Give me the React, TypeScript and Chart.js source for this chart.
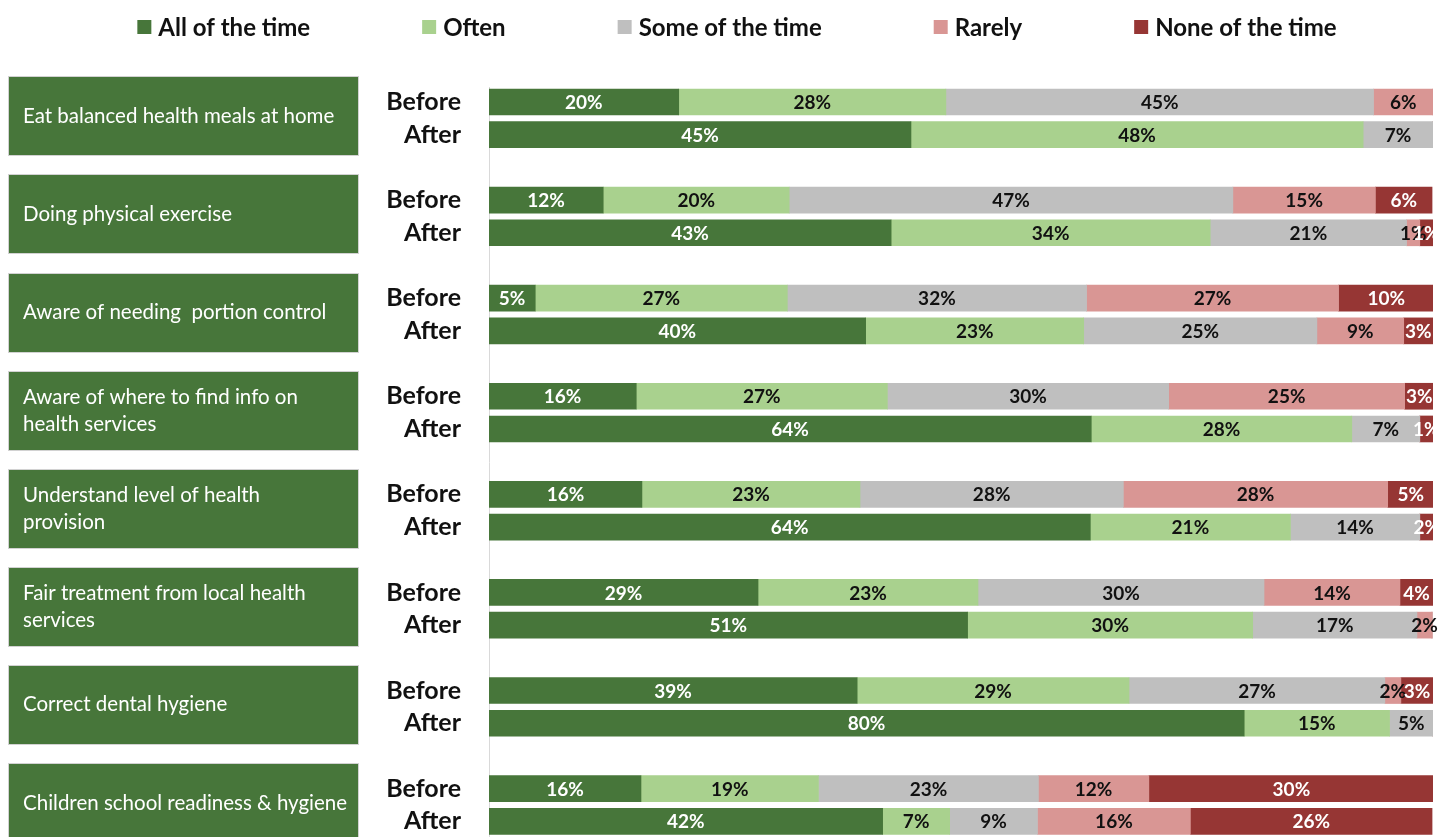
import React, { useEffect, useRef } from 'react';
import { Chart, registerables } from 'chart.js';

Chart.register(...registerables);

// ---------- data ----------
const categories: string[][] = [
  ['Eat balanced health meals at home'],
  ['Doing physical exercise'],
  ['Aware of needing  portion control'],
  ['Aware of where to find info on', 'health services'],
  ['Understand level of health', 'provision'],
  ['Fair treatment from local health', 'services'],
  ['Correct dental hygiene'],
  ['Children school readiness & hygiene'],
];
const periods = ['Before', 'After'];
const seriesNames = ['All of the time', 'Often', 'Some of the time', 'Rarely', 'None of the time'];
const seriesColors = ['#47763A', '#A9D18E', '#BFBFBF', '#D99694', '#963634'];
const labelColors = ['#FFFFFF', '#111111', '#111111', '#111111', '#FFFFFF'];

// order: cat1 Before, cat1 After, cat2 Before, cat2 After, ...
const allOfTheTime = [20.1, 44.7, 12.1, 42.6, 4.9, 39.9, 15.6, 63.8, 16.2, 63.7, 28.5, 50.7, 39.0, 80.0, 16.1, 41.7];
const often = [28.3, 47.9, 19.7, 33.8, 26.7, 23.1, 26.6, 27.6, 23.1, 21.2, 23.3, 30.2, 28.8, 15.4, 18.8, 7.1];
const someOfTheTime = [45.3, 7.4, 47.0, 20.8, 31.7, 24.7, 29.8, 7.2, 27.9, 13.7, 30.3, 17.4, 27.1, 4.6, 23.3, 9.3];
const rarely = [6.3, 0, 15.1, 1.4, 26.7, 9.2, 25.0, 0, 28.0, 0, 14.4, 1.6, 1.7, 0, 11.7, 16.2];
const noneOfTheTime = [0, 0, 6.0, 1.4, 10.1, 3.1, 3.1, 1.4, 4.9, 1.5, 3.5, 0, 3.4, 0, 30.2, 25.6];

const seriesValues = [allOfTheTime, often, someOfTheTime, rarely, noneOfTheTime];

const FONT = 'Lato, "Open Sans", sans-serif';

// slot index on the y axis for each bar: 3 slots per category (Before, After, gap)
const slotOf = (k: number) => Math.floor(k / 2) * 3 + (k % 2);
const tickSlots = allOfTheTime.map((_, k) => slotOf(k));

const categoryBoxes = {
  id: 'categoryBoxes',
  beforeDraw(chart: any) {
    const { ctx } = chart;
    const y = chart.scales.y;
    ctx.save();
    categories.forEach((lines, g) => {
      const yc = (y.getPixelForValue(g * 3) + y.getPixelForValue(g * 3 + 1)) / 2 - 2;
      const top = Math.round(yc - 39);
      ctx.fillStyle = seriesColors[0];
      ctx.fillRect(9, top, 349, 78);
      ctx.strokeStyle = 'rgba(205,205,205,0.9)';
      ctx.lineWidth = 1;
      ctx.strokeRect(8.5, top - 0.5, 350, 79);
      ctx.fillStyle = '#FFFFFF';
      ctx.font = `20.5px ${FONT}`;
      ctx.textAlign = 'left';
      ctx.textBaseline = 'middle';
      const lh = 27;
      lines.forEach((line, i) => {
        ctx.fillText(line, 23, yc + (i - (lines.length - 1) / 2) * lh);
      });
    });
    ctx.restore();
  },
};

const customLegend = {
  id: 'customLegend',
  afterDraw(chart: any) {
    const { ctx } = chart;
    ctx.save();
    ctx.font = `bold 24px ${FONT}`;
    ctx.textBaseline = 'middle';
    ctx.textAlign = 'left';
    const box = 14;
    const gap = 7;
    const spacing = 112;
    const ds = chart.data.datasets;
    const widths = ds.map((d: any) => box + gap + ctx.measureText(d.label).width);
    const total = widths.reduce((a: number, b: number) => a + b, 0) + spacing * (ds.length - 1);
    let x = 737 - total / 2;
    const yc = 27;
    ds.forEach((d: any, i: number) => {
      ctx.fillStyle = d.backgroundColor;
      ctx.fillRect(x, yc - box / 2, box, box);
      ctx.fillStyle = '#111111';
      ctx.fillText(d.label, x + box + gap, yc + 1);
      x += widths[i] + spacing;
    });
    ctx.restore();
  },
};

const dataLabels = {
  id: 'dataLabels',
  afterDatasetsDraw(chart: any) {
    const { ctx } = chart;
    ctx.save();
    ctx.font = `bold 19px ${FONT}`;
    ctx.textAlign = 'center';
    ctx.textBaseline = 'middle';
    chart.data.datasets.forEach((d: any, i: number) => {
      const meta = chart.getDatasetMeta(i);
      meta.data.forEach((el: any, j: number) => {
        const v = seriesValues[i][j];
        if (!v) return;
        const p = el.getCenterPoint();
        ctx.fillStyle = labelColors[i];
        ctx.fillText(`${Math.round(v)}%`, p.x, p.y + 1);
      });
    });
    ctx.restore();
  },
};

export default function App() {
  const ref = useRef<HTMLCanvasElement>(null);
  useEffect(() => {
    if (!ref.current) return;
    const chart = new Chart(ref.current, {
      type: 'bar',
      data: {
        datasets: seriesNames.map((name, i) => ({
          label: name,
          backgroundColor: seriesColors[i],
          borderWidth: 0,
          barThickness: 26,
          data: seriesValues[i].map((v, k) => ({ x: v, y: slotOf(k) })),
        })),
      },
      options: {
        indexAxis: 'y',
        animation: false,
        responsive: false,
        maintainAspectRatio: false,
        layout: { padding: { top: 87, right: 5, bottom: 0, left: 0 } },
        plugins: {
          legend: { display: false },
          tooltip: { enabled: false },
        },
        scales: {
          x: { type: 'linear', stacked: true, min: 0, max: 100, display: false },
          y: {
            type: 'linear',
            stacked: true,
            reverse: true,
            offset: false,
            bounds: 'data',
            min: -0.459,
            max: 22.48,
            grid: { display: false, drawTicks: false },
            border: { display: true, color: '#D9D9D9', width: 1 },
            afterBuildTicks: (scale: any) => {
              scale.ticks = tickSlots.map((v) => ({ value: v }));
            },
            afterFit: (scale: any) => {
              scale.width = 489;
              scale.paddingTop = 0;
              scale.paddingBottom = 0;
            },
            ticks: {
              padding: 28,
              autoSkip: false,
              color: '#111111',
              font: { family: FONT, size: 25, weight: 'bold' },
              callback: (value: any) => periods[Math.round(Number(value)) % 3] ?? '',
            },
          },
        },
      },
      plugins: [categoryBoxes, dataLabels, customLegend],
    });
    return () => chart.destroy();
  }, []);
  return (
    <div style={{ position: 'fixed', left: 0, top: 0, width: 1438, height: 837, background: '#FFFFFF' }}>
      <canvas ref={ref} width={1438} height={837} style={{ display: 'block' }} />
    </div>
  );
}
